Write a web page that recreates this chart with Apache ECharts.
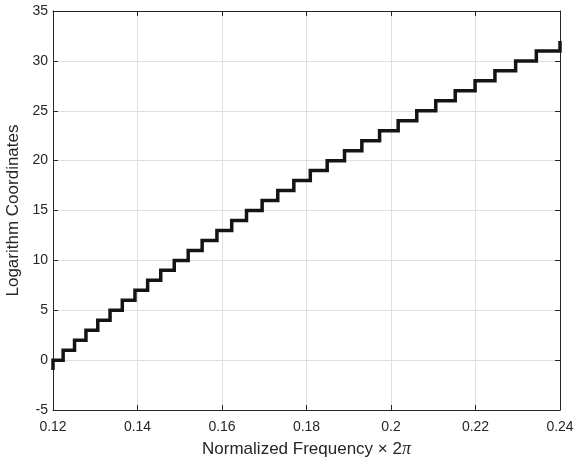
<!DOCTYPE html>
<html>
<head>
<meta charset="utf-8">
<script src="https://cdn.jsdelivr.net/npm/echarts@6/dist/echarts.min.js"></script>
<style>
  html, body { margin: 0; padding: 0; background: #fff; }
  #chart { width: 577px; height: 460px; }
</style>
</head>
<body>
<div id="chart"></div>
<script>
// Staircase: level values and the normalized frequencies where each step rises
const startFreq = 0.12;
const startLevel = -1;
const levels = [0, 1, 2, 3, 4, 5, 6, 7, 8, 9, 10, 11, 12, 13, 14, 15, 16,
  17, 18, 19, 20, 21, 22, 23, 24, 25, 26, 27, 28, 29, 30, 31, 32];
// rise frequency between levels[i] and levels[i+1]
const riseFreqs = [0.1224, 0.1251, 0.1278, 0.1306, 0.1335, 0.1364, 0.1394,
  0.1424, 0.1455, 0.1487, 0.1520, 0.1553, 0.1588, 0.1623, 0.1658, 0.1695,
  0.1732, 0.1770, 0.1809, 0.1849, 0.1890, 0.1931, 0.1973, 0.2017, 0.2061,
  0.2106, 0.2152, 0.2199, 0.2246, 0.2295, 0.2344, 0.2400];
const xTicks = [0.12, 0.14, 0.16, 0.18, 0.2, 0.22, 0.24];
const yTicks = [-5, 0, 5, 10, 15, 20, 25, 30, 35];

// Build the stair polyline in data coordinates
const pts = [[startFreq, startLevel], [startFreq, levels[0]]];
for (let i = 0; i < riseFreqs.length; i++) {
  pts.push([riseFreqs[i], levels[i]]);
  pts.push([riseFreqs[i], levels[i + 1]]);
}

const axisColor = '#262626';
const gridColor = '#dfdfdf';
const font = 'Liberation Sans, Arial, Helvetica, sans-serif';

const chart = echarts.init(document.getElementById('chart'), null, { renderer: 'canvas' });
chart.setOption({
  animation: false,
  backgroundColor: '#ffffff',
  grid: { left: 53, right: 17, top: 11, bottom: 50, containLabel: false, outerBoundsMode: 'none' },
  xAxis: [{
    type: 'value',
    min: xTicks[0], max: xTicks[xTicks.length - 1], interval: 0.02,
    position: 'bottom',
    axisLine: { show: true, onZero: false, lineStyle: { color: axisColor, width: 1 } },
    axisTick: { show: true, inside: true, length: 5, lineStyle: { color: axisColor } },
    splitLine: { show: true, lineStyle: { color: gridColor, width: 1 } },
    axisLabel: {
      color: axisColor, fontFamily: font, fontSize: 14, margin: 10,
      formatter: v => String(+v.toFixed(2))
    },
    name: '{t|Normalized Frequency × 2}{p|π}',
    nameLocation: 'middle', nameGap: 30,
    nameTextStyle: {
      rich: {
        t: { fontFamily: font, fontSize: 17, color: axisColor },
        p: { fontFamily: 'Liberation Serif, Times New Roman, serif', fontStyle: 'italic', fontSize: 18, color: axisColor }
      }
    }
  }, {
    type: 'value',
    min: xTicks[0], max: xTicks[xTicks.length - 1], interval: 0.02,
    position: 'top',
    axisLine: { show: true, onZero: false, lineStyle: { color: axisColor, width: 1 } },
    axisTick: { show: true, inside: true, length: 5, lineStyle: { color: axisColor } },
    splitLine: { show: false },
    axisLabel: { show: false }
  }],
  yAxis: [{
    type: 'value',
    min: yTicks[0], max: yTicks[yTicks.length - 1], interval: 5,
    position: 'left',
    axisLine: { show: true, onZero: false, lineStyle: { color: axisColor, width: 1 } },
    axisTick: { show: true, inside: true, length: 5, lineStyle: { color: axisColor } },
    splitLine: { show: true, lineStyle: { color: gridColor, width: 1 } },
    axisLabel: { color: axisColor, fontFamily: font, fontSize: 14, margin: 5 },
    name: 'Logarithm Coordinates',
    nameLocation: 'middle', nameGap: 27,
    nameTextStyle: { fontFamily: font, fontSize: 17, color: axisColor }
  }, {
    type: 'value',
    min: yTicks[0], max: yTicks[yTicks.length - 1], interval: 5,
    position: 'right',
    axisLine: { show: true, onZero: false, lineStyle: { color: axisColor, width: 1 } },
    axisTick: { show: true, inside: true, length: 5, lineStyle: { color: axisColor } },
    splitLine: { show: false },
    axisLabel: { show: false }
  }],
  series: [{
    type: 'line',
    xAxisIndex: 0, yAxisIndex: 0,
    data: pts,
    showSymbol: false,
    symbol: 'none',
    clip: false,
    lineStyle: { color: '#141414', width: 3.5, join: 'miter' }
  }]
});
</script>
</body>
</html>
